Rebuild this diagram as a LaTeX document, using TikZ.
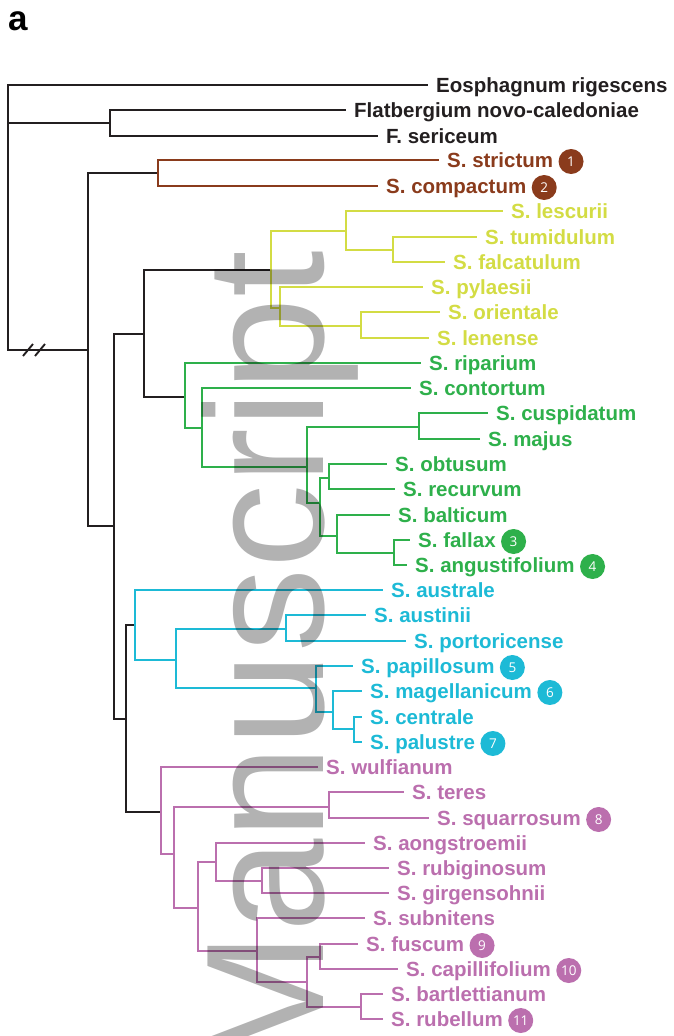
\documentclass[tikz,border=0pt]{standalone}
\usepackage{fontspec}
\setmainfont{Liberation Sans}
\newfontfamily\badgefont{Open Sans}
\usetikzlibrary{positioning}
\definecolor{treeblack}{HTML}{231F20}
\definecolor{cladebrown}{HTML}{8A3B1C}
\definecolor{cladeyellow}{HTML}{D3DC44}
\definecolor{cladegreen}{HTML}{2EB04B}
\definecolor{cladeblue}{HTML}{1DBAD6}
\definecolor{cladepurple}{HTML}{BB6FAE}

\begin{document}
\begin{tikzpicture}[
  x=1pt, y=-1pt,
  branch/.style={line width=1.9pt},
  blk/.style={branch, color=treeblack},
  brn/.style={branch, color=cladebrown},
  ylw/.style={branch, color=cladeyellow},
  grn/.style={branch, color=cladegreen},
  blu/.style={branch, color=cladeblue},
  pur/.style={branch, color=cladepurple},
  taxon/.style={anchor=west, inner xsep=8pt, inner ysep=0pt, text height=14.6pt, text depth=0pt, text=#1, font=\fontsize{20.5}{24}\selectfont\bfseries},
  badge/.style={circle, fill=#1, text=white, minimum size=25pt, inner sep=0pt, yshift=-1.5pt, font=\badgefont\fontsize{13.5}{13.5}\selectfont}
]
\useasboundingbox (0,0) rectangle (674,1036);
\node[anchor=base west, inner sep=0pt, font=\fontsize{35}{35}\selectfont\bfseries] (panel) at (8,30) {a};

% taxa
\node[taxon=treeblack] (eos) at (428,85) {Eosphagnum rigescens};
\node[taxon=treeblack] (flat) at (346,110) {Flatbergium novo-caledoniae};
\node[taxon=treeblack] (fser) at (378,136) {F. sericeum};
\node[taxon=cladebrown] (strictum) at (439,160) {S. strictum};
\node[taxon=cladebrown] (compactum) at (378,186) {S. compactum};
\node[taxon=cladeyellow] (lescurii) at (503,211) {S. lescurii};
\node[taxon=cladeyellow] (tumidulum) at (477,237) {S. tumidulum};
\node[taxon=cladeyellow] (falcatulum) at (445,262) {S. falcatulum};
\node[taxon=cladeyellow] (pylaesii) at (423,287) {S. pylaesii};
\node[taxon=cladeyellow] (orientale) at (440,312) {S. orientale};
\node[taxon=cladeyellow] (lenense) at (429,338) {S. lenense};
\node[taxon=cladegreen] (riparium) at (421,363) {S. riparium};
\node[taxon=cladegreen] (contortum) at (411,388) {S. contortum};
\node[taxon=cladegreen] (cuspidatum) at (488,413) {S. cuspidatum};
\node[taxon=cladegreen] (majus) at (480,439) {S. majus};
\node[taxon=cladegreen] (obtusum) at (387,464) {S. obtusum};
\node[taxon=cladegreen] (recurvum) at (395,489) {S. recurvum};
\node[taxon=cladegreen] (balticum) at (390,515) {S. balticum};
\node[taxon=cladegreen] (fallax) at (410,540) {S. fallax};
\node[taxon=cladegreen] (angustifolium) at (407,565) {S. angustifolium};
\node[taxon=cladeblue] (australe) at (383,590) {S. australe};
\node[taxon=cladeblue] (austinii) at (366,615) {S. austinii};
\node[taxon=cladeblue] (portoricense) at (406,641) {S. portoricense};
\node[taxon=cladeblue] (papillosum) at (353,666) {S. papillosum};
\node[taxon=cladeblue] (magellanicum) at (362,691) {S. magellanicum};
\node[taxon=cladeblue] (centrale) at (362,717) {S. centrale};
\node[taxon=cladeblue] (palustre) at (362,742) {S. palustre};
\node[taxon=cladepurple] (wulfianum) at (318,767) {S. wulfianum};
\node[taxon=cladepurple] (teres) at (404,792) {S. teres};
\node[taxon=cladepurple] (squarrosum) at (429,818) {S. squarrosum};
\node[taxon=cladepurple] (aongstroemii) at (365,843) {S. aongstroemii};
\node[taxon=cladepurple] (rubiginosum) at (389,868) {S. rubiginosum};
\node[taxon=cladepurple] (girgensohnii) at (389,893) {S. girgensohnii};
\node[taxon=cladepurple] (subnitens) at (365,918) {S. subnitens};
\node[taxon=cladepurple] (fuscum) at (358,944) {S. fuscum};
\node[taxon=cladepurple] (capillifolium) at (398,969) {S. capillifolium};
\node[taxon=cladepurple] (bartlettianum) at (383,994) {S. bartlettianum};
\node[taxon=cladepurple] (rubellum) at (383,1019) {S. rubellum};

% numbered badges
\node[badge=cladebrown, right=-3pt of strictum] (b1) {1};
\node[badge=cladebrown, right=-3pt of compactum] (b2) {2};
\node[badge=cladegreen, right=-3pt of fallax] (b3) {3};
\node[badge=cladegreen, right=-3pt of angustifolium] (b4) {4};
\node[badge=cladeblue, right=-3pt of papillosum] (b5) {5};
\node[badge=cladeblue, right=-3pt of magellanicum] (b6) {6};
\node[badge=cladeblue, right=-3pt of palustre] (b7) {7};
\node[badge=cladepurple, right=-3pt of squarrosum] (b8) {8};
\node[badge=cladepurple, right=-3pt of fuscum] (b9) {9};
\node[badge=cladepurple, right=-3pt of capillifolium] (b10) {10};
\node[badge=cladepurple, right=-3pt of rubellum] (b11) {11};

% internal nodes
\coordinate (root) at (8,123);
\coordinate (flatN) at (110,123);
\coordinate (sphN) at (88,350);
\coordinate (brnN) at (158,173);
\coordinate (coreN) at (114,526);
\coordinate (acuN) at (144,334);
\coordinate (ylwN) at (271,270);
\coordinate (lesN) at (346,231);
\coordinate (tumN) at (393,250);
\coordinate (pylN) at (280,308);
\coordinate (oriN) at (361,326);
\coordinate (grnN) at (185,397);
\coordinate (conN) at (202,428);
\coordinate (cusN) at (419,427);
\coordinate (gaN) at (307,467);
\coordinate (obN) at (320,503);
\coordinate (obtN) at (329,478);
\coordinate (balN) at (337,536);
\coordinate (falN) at (394,553);
\coordinate (restN) at (126,719);
\coordinate (bluN) at (135,625);
\coordinate (ausN) at (176,660);
\coordinate (austN) at (286,629);
\coordinate (papN) at (316,688);
\coordinate (magN) at (333,712);
\coordinate (cenN) at (354,729);
\coordinate (purN) at (161,812);
\coordinate (acuP) at (174,854);
\coordinate (terN) at (329,807);
\coordinate (cutN) at (198,908);
\coordinate (aonN) at (216,862);
\coordinate (rubN) at (262,881);
\coordinate (subN) at (257,951);
\coordinate (fusN) at (307,982);
\coordinate (fuscumN) at (320,957);
\coordinate (barN) at (361,1007);

% backbone
\draw[blk] (root) |- (eos.west);
\draw[blk] (root) |- (flatN);
\draw[blk] (root) |- (sphN);
\draw[blk] (flatN) |- (flat.west);
\draw[blk] (flatN) |- (fser.west);
\draw[blk] (sphN) |- (brnN);
\draw[blk] (sphN) |- (coreN);
\draw[blk] (coreN) |- (acuN);
\draw[blk] (coreN) |- (restN);
\draw[blk] (acuN) |- (ylwN);
\draw[blk] (acuN) |- (grnN);
\draw[blk] (restN) |- (bluN);
\draw[blk] (restN) |- (purN);
\draw[blk] (23,356) -- (33,344);
\draw[blk] (35,356) -- (45,344);

% brown clade
\draw[brn] (brnN) |- (strictum.west);
\draw[brn] (brnN) |- (compactum.west);

% yellow clade
\draw[ylw] (ylwN) |- (lesN);
\draw[ylw] (ylwN) |- (pylN);
\draw[ylw] (lesN) |- (lescurii.west);
\draw[ylw] (lesN) |- (tumN);
\draw[ylw] (tumN) |- (tumidulum.west);
\draw[ylw] (tumN) |- (falcatulum.west);
\draw[ylw] (pylN) |- (pylaesii.west);
\draw[ylw] (pylN) |- (oriN);
\draw[ylw] (oriN) |- (orientale.west);
\draw[ylw] (oriN) |- (lenense.west);

% green clade
\draw[grn] (grnN) |- (riparium.west);
\draw[grn] (grnN) |- (conN);
\draw[grn] (conN) |- (contortum.west);
\draw[grn] (conN) |- (gaN);
\draw[grn] (gaN) |- (cusN);
\draw[grn] (gaN) |- (obN);
\draw[grn] (cusN) |- (cuspidatum.west);
\draw[grn] (cusN) |- (majus.west);
\draw[grn] (obN) |- (obtN);
\draw[grn] (obN) |- (balN);
\draw[grn] (obtN) |- (obtusum.west);
\draw[grn] (obtN) |- (recurvum.west);
\draw[grn] (balN) |- (balticum.west);
\draw[grn] (balN) |- (falN);
\draw[grn] (falN) |- (fallax.west);
\draw[grn] (falN) |- (angustifolium.west);

% blue clade
\draw[blu] (bluN) |- (australe.west);
\draw[blu] (bluN) |- (ausN);
\draw[blu] (ausN) |- (austN);
\draw[blu] (ausN) |- (papN);
\draw[blu] (austN) |- (austinii.west);
\draw[blu] (austN) |- (portoricense.west);
\draw[blu] (papN) |- (papillosum.west);
\draw[blu] (papN) |- (magN);
\draw[blu] (magN) |- (magellanicum.west);
\draw[blu] (magN) |- (cenN);
\draw[blu] (cenN) |- (centrale.west);
\draw[blu] (cenN) |- (palustre.west);

% purple clade
\draw[pur] (purN) |- (wulfianum.west);
\draw[pur] (purN) |- (acuP);
\draw[pur] (acuP) |- (terN);
\draw[pur] (acuP) |- (cutN);
\draw[pur] (terN) |- (teres.west);
\draw[pur] (terN) |- (squarrosum.west);
\draw[pur] (cutN) |- (aonN);
\draw[pur] (cutN) |- (subN);
\draw[pur] (aonN) |- (aongstroemii.west);
\draw[pur] (aonN) |- (rubN);
\draw[pur] (rubN) |- (rubiginosum.west);
\draw[pur] (rubN) |- (girgensohnii.west);
\draw[pur] (subN) |- (subnitens.west);
\draw[pur] (subN) |- (fusN);
\draw[pur] (fusN) |- (fuscumN);
\draw[pur] (fusN) |- (barN);
\draw[pur] (fuscumN) |- (fuscum.west);
\draw[pur] (fuscumN) |- (capillifolium.west);
\draw[pur] (barN) |- (bartlettianum.west);
\draw[pur] (barN) |- (rubellum.west);

% watermark
\node[rotate=90, anchor=base west, inner sep=0pt, text=black, text opacity=0.3, font=\fontsize{168}{168}\selectfont] (mark) at (323,1073) {Manuscript};
\end{tikzpicture}
\end{document}
